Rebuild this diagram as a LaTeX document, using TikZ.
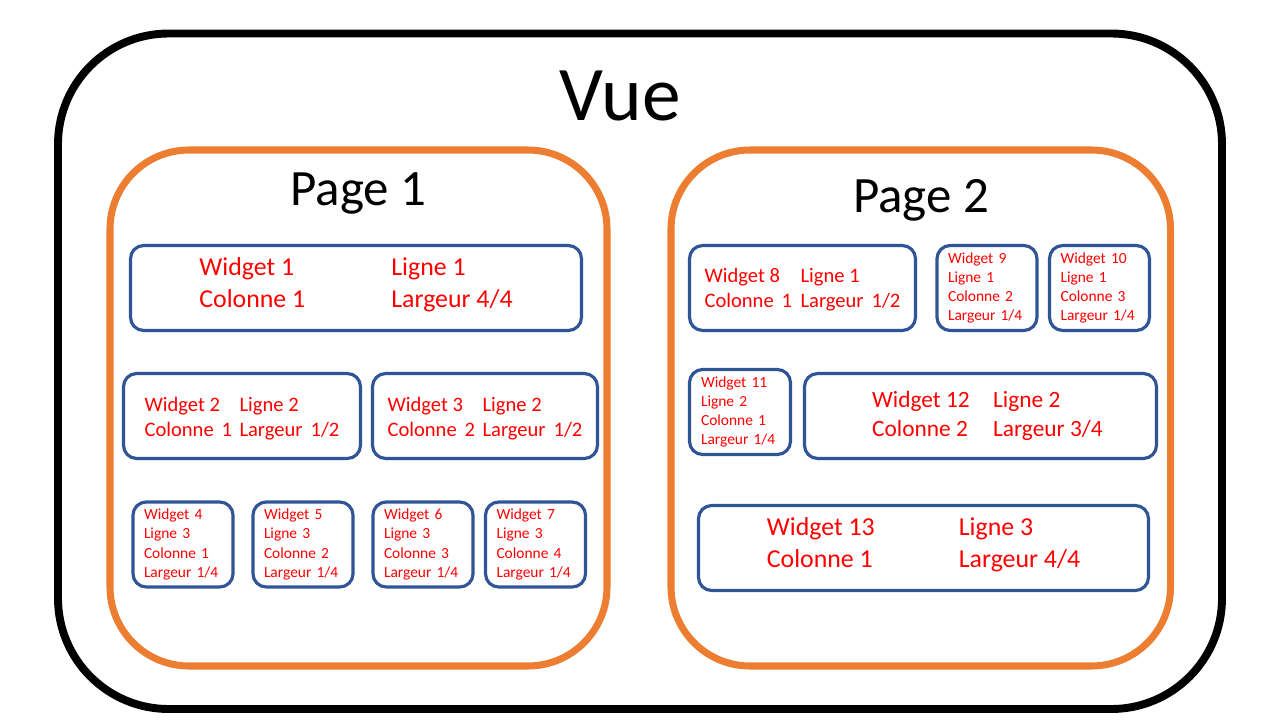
\documentclass[tikz,border=0pt]{standalone}
\usepackage{fontspec}
\setmainfont{Carlito}
\definecolor{pageorange}{RGB}{237,125,49}
\definecolor{widgetblue}{RGB}{47,85,151}
\tikzset{
  widget/.style={draw=widgetblue, line width=1.8pt, rounded corners=7.5pt,
    minimum width=#1*0.02cm, minimum height=1.7cm, inner sep=0pt, text=red},
  page/.style={draw=pageorange, line width=4pt, rounded corners=45pt},
  smalltext/.style={font=\fontsize{8.8}{10.9}\selectfont, align=left,
    text width=78*0.02cm, inner xsep=11*0.02cm},
  midtext/.style={font=\fontsize{11.7}{14.2}\selectfont},
  bigtext/.style={font=\fontsize{14.7}{18.1}\selectfont},
}
% two columns of a widget: [raise], width of first column, then the four texts
\newcommand{\twocol}[6][0pt]{\raisebox{#1}[\height][\depth]{%
  \begin{tabular}{@{}p{#2}@{}l@{}}#3 & #4\\ #5 & #6\end{tabular}}}
\newcommand{\gap}{\hspace{0.16cm}}
\begin{document}
\begin{tikzpicture}[x=0.02cm,y=-0.02cm]
  \useasboundingbox (0,0) rectangle (1280,720);
  % the view
  \draw[line width=4.5pt, rounded corners=63pt] (58,33.5) rectangle (1222,709);
  \node[font=\fontsize{44}{50}\selectfont, anchor=base] (vue) at (620,120) {Vue};
  % the two pages
  \draw[page] (110,150) rectangle (607,666);
  \draw[page] (671,150) rectangle (1170.5,666);
  \node[font=\fontsize{29}{34}\selectfont, anchor=base] (page1) at (358.5,205) {Page 1};
  \node[font=\fontsize{29}{34}\selectfont, anchor=base] (page2) at (921,212) {Page 2};
  % page 1
  \node[widget=451, bigtext] (w1) at (356,288)
    {\twocol[0.06cm]{3.84cm}{Widget 1}{Ligne 1}{Colonne 1}{Largeur 4/4}};
  \node[widget=237, midtext] (w2) at (242,416)
    {\twocol[-0.06cm]{1.9cm}{Widget 2}{Ligne 2}{Colonne\gap1}{Largeur\gap1/2}};
  \node[widget=225, midtext] (w3) at (485,416)
    {\twocol[-0.06cm]{1.9cm}{Widget 3}{Ligne 2}{Colonne\gap2}{Largeur\gap1/2}};
  \foreach \n/\cx/\c in {4/183/1, 5/303/2, 6/423/3, 7/535.5/4}
    \node[widget=100, smalltext] (w\n) at (\cx,544.5) {Widget \n\\Ligne 3\\Colonne \c\\Largeur 1/4};
  % page 2
  \node[widget=226, midtext] (w8) at (802.5,288)
    {\twocol[-0.04cm]{1.92cm}{Widget 8}{Ligne 1}{Colonne\gap1}{Largeur\gap1/2}};
  \foreach \n/\cx/\c in {9/987/2, 10/1099.5/3}
    \node[widget=100, smalltext] (w\n) at (\cx,288) {Widget \n\\Ligne 1\\Colonne \c\\Largeur 1/4};
  \node[widget=101, smalltext] (w11) at (740,412) {Widget 11\\Ligne 2\\Colonne 1\\Largeur 1/4};
  \node[widget=352, font=\fontsize{13.3}{16.4}\selectfont] (w12) at (980.5,416)
    {\hspace{0.28cm}\twocol{2.42cm}{Widget 12}{Ligne 2}{Colonne 2}{Largeur 3/4}};
  \node[widget=450, bigtext] (w13) at (923.5,548)
    {\twocol[0.06cm]{3.84cm}{Widget 13}{Ligne 3}{Colonne 1}{Largeur 4/4}};
\end{tikzpicture}
\end{document}
